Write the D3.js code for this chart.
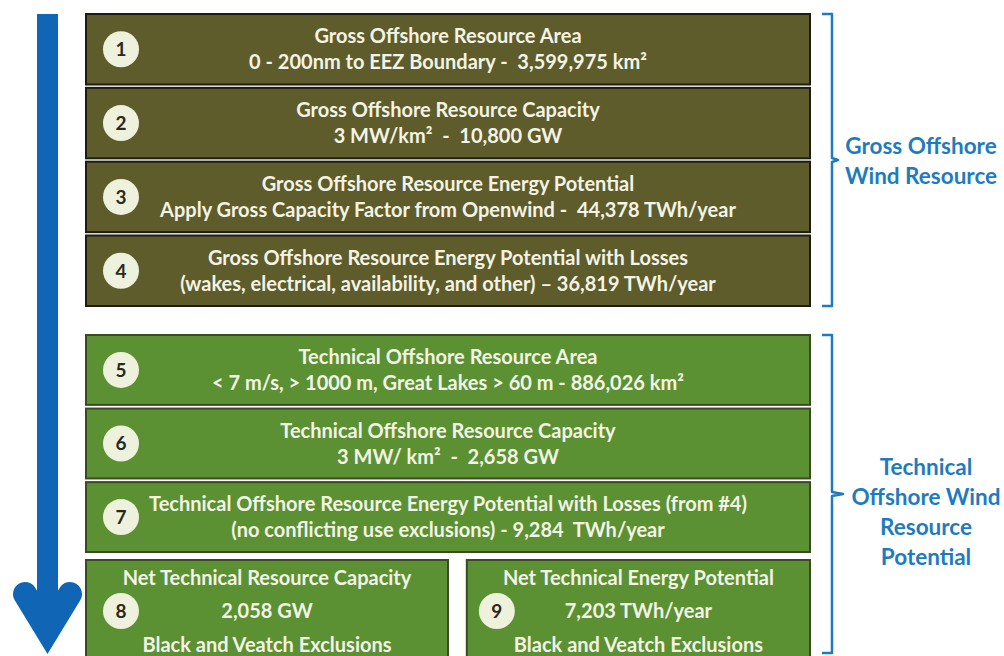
<!DOCTYPE html>
<html>
<head>
<meta charset="utf-8">
<script src="https://cdn.jsdelivr.net/npm/d3@7"></script>
<style>
  body { margin: 0; background: #fff; }
  svg { display: block; font-family: Lato, "Open Sans", sans-serif; font-weight: bold; }
  text { white-space: pre; }
</style>
</head>
<body>
<div id="chart"></div>
<script>
// step data
const grossSteps = ["1", "2", "3", "4"];
const grossTitles = [
  "Gross Offshore Resource Area",
  "Gross Offshore Resource Capacity",
  "Gross Offshore Resource Energy Potential",
  "Gross Offshore Resource Energy Potential with Losses",
];
const grossDetails = [
  "0 - 200nm to EEZ Boundary -  3,599,975 km²",
  "3 MW/km²  -  10,800 GW",
  "Apply Gross Capacity Factor from Openwind -  44,378 TWh/year",
  "(wakes, electrical, availability, and other) – 36,819 TWh/year",
];
const techSteps = ["5", "6", "7"];
const techTitles = [
  "Technical Offshore Resource Area",
  "Technical Offshore Resource Capacity",
  "Technical Offshore Resource Energy Potential with Losses (from #4)",
];
const techDetails = [
  "< 7 m/s, > 1000 m, Great Lakes > 60 m - 886,026 km²",
  "3 MW/ km²  -  2,658 GW",
  "(no conflicting use exclusions) - 9,284  TWh/year",
];
const netSteps = ["8", "9"];
const netTitles = ["Net Technical Resource Capacity", "Net Technical Energy Potential"];
const netValues = ["2,058 GW", "7,203 TWh/year"];
const netNotes = ["Black and Veatch Exclusions", "Black and Veatch Exclusions"];
const groupLabels = [
  ["Gross Offshore", "Wind Resource"],
  ["Technical", "Offshore Wind", "Resource", "Potential"],
];

const W = 1004, H = 656;
const svg = d3.select("#chart").append("svg").attr("width", W).attr("height", H);

const colors = {
  gross: "#5e5c2b", grossStroke: "#1c1c14",
  tech: "#5b9133", techStroke: "#3a4a22",
  text: "#f3f3e6", circle: "#eef1dc", circleText: "#2a2a1c",
  blue: "#1066b4", label: "#1f7bc0",
};
const fs = 20;

// scales
const xFull = d3.scaleLinear().domain([0, 1]).range([86, 810]);
const grossY = d3.scaleBand().domain(grossSteps).range([14, 306]).paddingInner(0.045);
const techY = d3.scaleBand().domain(techSteps).range([335, 552]).paddingInner(0.05);
const netSpan = { "8": [0, 0.5], "9": [0.526, 1] };
const netTop = 560, netH = 130;

// arrow: shaft + chevron head
svg.append("rect").attr("x", 37).attr("y", 14).attr("width", 21).attr("height", 600)
  .attr("fill", colors.blue);
svg.append("path").attr("d", d3.line()([[25, 594], [47.5, 631], [70, 594]]))
  .attr("fill", "none").attr("stroke", colors.blue).attr("stroke-width", 24)
  .attr("stroke-linecap", "round").attr("stroke-linejoin", "miter");

const stepCircle = (g, cx, cy) => {
  g.append("circle").attr("cx", cx).attr("cy", cy)
    .attr("r", 18).attr("fill", colors.circle);
  g.append("text").attr("x", cx).attr("y", cy)
    .attr("dy", "0.36em").attr("text-anchor", "middle")
    .attr("fill", colors.circleText).attr("font-size", 19).text((d) => d);
};

// full-width rows
const drawRows = (steps, titles, details, y, fill, stroke) => {
  const g = svg.append("g").selectAll("g").data(steps).join("g")
    .attr("transform", (d) => `translate(0,${y(d)})`);
  g.append("rect")
    .attr("x", xFull(0)).attr("width", xFull(1) - xFull(0))
    .attr("height", y.bandwidth())
    .attr("fill", fill).attr("stroke", stroke).attr("stroke-width", 2);
  stepCircle(g, xFull(0) + 35, y.bandwidth() / 2);
  const cx = (xFull(0) + xFull(1)) / 2;
  g.append("text").attr("x", cx).attr("y", y.bandwidth() / 2 - 13)
    .attr("dy", "0.36em").attr("text-anchor", "middle")
    .attr("fill", colors.text).attr("font-size", fs)
    .text((d, i) => titles[i]);
  g.append("text").attr("x", cx).attr("y", y.bandwidth() / 2 + 13)
    .attr("dy", "0.36em").attr("text-anchor", "middle")
    .attr("fill", colors.text).attr("font-size", fs)
    .text((d, i) => details[i]);
};
drawRows(grossSteps, grossTitles, grossDetails, grossY, colors.gross, colors.grossStroke);
drawRows(techSteps, techTitles, techDetails, techY, colors.tech, colors.techStroke);

// net rows (8, 9)
const netW = (d) => xFull(netSpan[d][1]) - xFull(netSpan[d][0]);
const net = svg.append("g").selectAll("g").data(netSteps).join("g")
  .attr("transform", (d) => `translate(${xFull(netSpan[d][0])},${netTop})`);
net.append("rect").attr("width", netW).attr("height", netH)
  .attr("fill", colors.tech).attr("stroke", colors.techStroke).attr("stroke-width", 2);
net.each(function (d, i) {
  stepCircle(d3.select(this), i === 0 ? 35 : 30, 51);
});
[[netTitles, 18], [netValues, 51], [netNotes, 85]].forEach(([arr, yy]) => {
  net.append("text").attr("x", (d) => netW(d) / 2).attr("y", yy)
    .attr("dy", "0.36em").attr("text-anchor", "middle")
    .attr("fill", colors.text).attr("font-size", fs)
    .text((d, i) => arr[i]);
});

// brackets
const bracket = (top, bottom, tipX) => {
  const p = d3.path();
  const mid = (top + bottom) / 2;
  p.moveTo(822, top); p.lineTo(832, top); p.lineTo(832, mid - 2);
  p.lineTo(tipX, mid); p.lineTo(832, mid + 2); p.lineTo(832, bottom); p.lineTo(822, bottom);
  svg.append("path").attr("d", p.toString()).attr("fill", "none")
    .attr("stroke", colors.label).attr("stroke-width", 2.5).attr("stroke-linejoin", "round");
};
bracket(grossY(grossSteps[0]), grossY(grossSteps[3]) + grossY.bandwidth(), 838);
bracket(techY(techSteps[0]), 653, 843);

const drawLabel = (lines, cx, y0) => {
  svg.append("g").selectAll("text").data(lines).join("text")
    .attr("x", cx).attr("y", (d, i) => y0 + i * 30)
    .attr("dy", "0.36em").attr("text-anchor", "middle")
    .attr("fill", colors.label).attr("font-size", 22.5).text((d) => d);
};
drawLabel(groupLabels[0], 921, 146);
drawLabel(groupLabels[1], 926, 467);
</script>
</body>
</html>
